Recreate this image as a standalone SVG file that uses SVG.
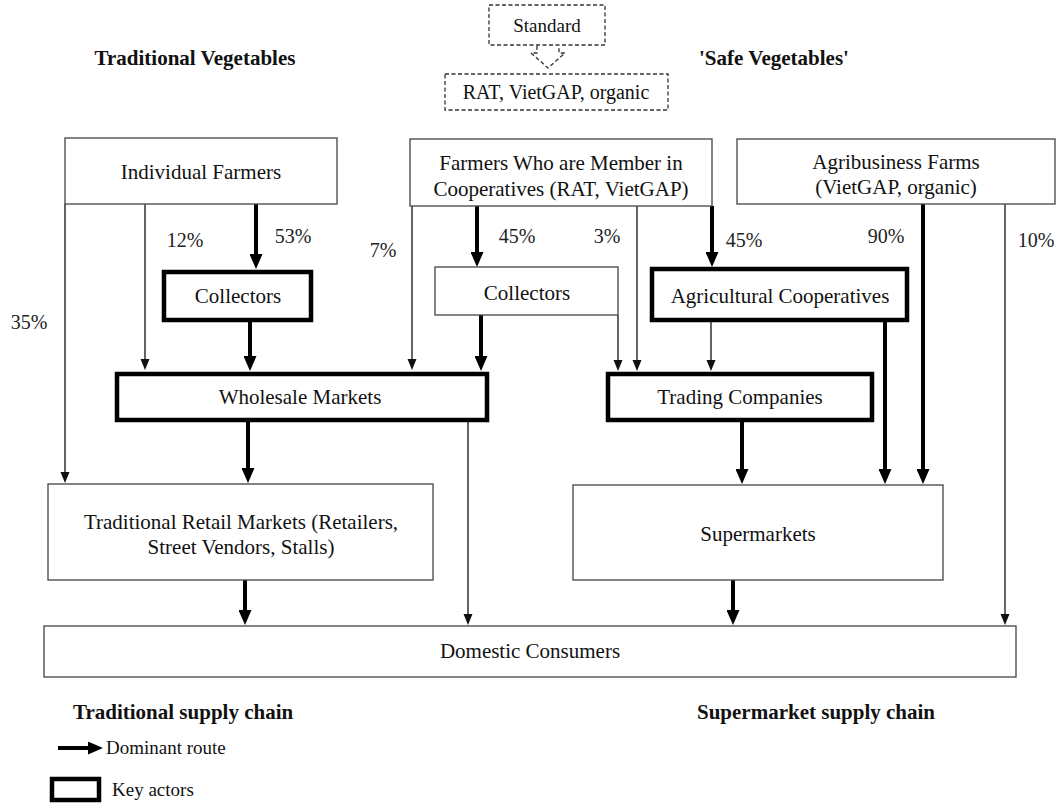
<svg xmlns="http://www.w3.org/2000/svg" width="1063" height="803" viewBox="0 0 1063 803" font-family="'Liberation Serif', 'Times New Roman', serif">
<style>
  text { font-family: "Liberation Serif", "Times New Roman", serif; fill: #111; }
  .lbl { font-size: 21px; text-anchor: middle; }
  .pct { font-size: 20px; text-anchor: middle; fill: #222; }
  .title { font-size: 21px; font-weight: bold; text-anchor: middle; }
  .leg { font-size: 21px; font-weight: bold; }
  .small { font-size: 19px; }
  .box { fill: #fff; stroke: #444; stroke-width: 1.3; }
  .key { fill: #fff; stroke: #000; stroke-width: 4.5; }
  .dash { fill: #fff; stroke: #333; stroke-width: 1.3; stroke-dasharray: 4 2.5; }
  .thin { fill: none; stroke: #111; stroke-width: 1.3; marker-end: url(#ah); }
  .thick { fill: none; stroke: #000; stroke-width: 4; marker-end: url(#ahb); }
</style>
<defs>
  <marker id="ah" markerUnits="userSpaceOnUse" markerWidth="11" markerHeight="10" refX="1" refY="4.5" orient="auto">
    <path d="M0,0 L11,4.5 L0,9 z" fill="#111"/>
  </marker>
  <marker id="ahb" markerUnits="userSpaceOnUse" markerWidth="15" markerHeight="13" refX="1" refY="6.5" orient="auto">
    <path d="M0,0 L15,6.5 L0,13 z" fill="#000"/>
  </marker>
</defs>
<rect width="1063" height="803" fill="#fff"/>

<!-- headers -->
<text class="title" x="195" y="65">Traditional Vegetables</text>
<text class="title" x="774" y="65">'Safe Vegetables'</text>

<g id="standard">
  <rect class="dash" x="489" y="5" width="116" height="40"/>
  <text class="lbl" x="547" y="32" style="font-size:19px">Standard</text>
</g>
<path class="dash" d="M537,46 L537,53 L531,53 L548,68 L565,53 L559,53 L559,46" fill="none"/>
<g id="rat">
  <rect class="dash" x="445" y="74" width="223" height="36"/>
  <text class="lbl" x="556" y="99" style="font-size:20px">RAT, VietGAP, organic</text>
</g>

<!-- connectors -->
<g id="connectors">
  <path class="thin" d="M65,204 V473"/>
  <path class="thin" d="M145,204 V360"/>
  <path class="thin" d="M412,206 V360"/>
  <path class="thin" d="M618,315 V361"/>
  <path class="thin" d="M637,206 V361"/>
  <path class="thin" d="M711,322 V361"/>
  <path class="thin" d="M468,422 V615"/>
  <path class="thin" d="M1005,204 V615"/>

  <path class="thick" d="M256,204 V255"/>
  <path class="thick" d="M250,322 V357"/>
  <path class="thick" d="M477,206 V253"/>
  <path class="thick" d="M481,315 V357"/>
  <path class="thick" d="M712,206 V253"/>
  <path class="thick" d="M885,322 V470"/>
  <path class="thick" d="M923,204 V470"/>
  <path class="thick" d="M742,422 V470"/>
  <path class="thick" d="M248,422 V469"/>
  <path class="thick" d="M245,580 V611"/>
  <path class="thick" d="M733,580 V611"/>
</g>

<!-- percentages -->
<g id="percentages">
  <text class="pct" x="185" y="247">12%</text>
  <text class="pct" x="293" y="243">53%</text>
  <text class="pct" x="383" y="257">7%</text>
  <text class="pct" x="29" y="329">35%</text>
  <text class="pct" x="517" y="243">45%</text>
  <text class="pct" x="607" y="243">3%</text>
  <text class="pct" x="744" y="247">45%</text>
  <text class="pct" x="886" y="243">90%</text>
  <text class="pct" x="1036" y="247">10%</text>
</g>

<!-- nodes -->
<g id="individual-farmers">
  <rect class="box" x="65" y="138" width="272" height="66"/>
  <text class="lbl" x="201" y="179">Individual Farmers</text>
</g>
<g id="coop-farmers">
  <rect class="box" x="410" y="139" width="302" height="67"/>
  <text class="lbl" x="561" y="170">Farmers Who are Member in</text>
  <text class="lbl" x="561" y="196">Cooperatives (RAT, VietGAP)</text>
</g>
<g id="agribusiness">
  <rect class="box" x="737" y="139" width="318" height="65"/>
  <text class="lbl" x="896" y="169">Agribusiness Farms</text>
  <text class="lbl" x="896" y="194">(VietGAP, organic)</text>
</g>
<g id="collectors-1">
  <rect class="key" x="164" y="272" width="147" height="48"/>
  <text class="lbl" x="238" y="303">Collectors</text>
</g>
<g id="collectors-2">
  <rect class="box" x="435" y="267" width="183" height="48"/>
  <text class="lbl" x="527" y="300">Collectors</text>
</g>
<g id="agri-coops">
  <rect class="key" x="652" y="269" width="255" height="51"/>
  <text class="lbl" x="780" y="303">Agricultural Cooperatives</text>
</g>
<g id="wholesale">
  <rect class="key" x="117" y="374" width="370" height="46"/>
  <text class="lbl" x="300" y="404">Wholesale Markets</text>
</g>
<g id="trading">
  <rect class="key" x="608" y="374" width="264" height="46"/>
  <text class="lbl" x="740" y="404">Trading Companies</text>
</g>
<g id="traditional-retail">
  <rect class="box" x="48" y="484" width="385" height="96"/>
  <text class="lbl" x="241" y="529">Traditional Retail Markets (Retailers,</text>
  <text class="lbl" x="241" y="554">Street Vendors, Stalls)</text>
</g>
<g id="supermarkets">
  <rect class="box" x="573" y="485" width="370" height="95"/>
  <text class="lbl" x="758" y="541">Supermarkets</text>
</g>
<g id="domestic">
  <rect class="box" x="44" y="626" width="972" height="51"/>
  <text class="lbl" x="530" y="658">Domestic Consumers</text>
</g>

<!-- legend -->
<g id="legend">
  <text class="leg" x="73" y="719">Traditional supply chain</text>
  <text class="leg" x="697" y="719">Supermarket supply chain</text>
  <path d="M58,748 H89" stroke="#000" stroke-width="4" fill="none" marker-end="url(#ahb)"/>
  <text class="small" x="106" y="754">Dominant route</text>
  <rect class="key" x="52" y="779" width="47" height="21"/>
  <text class="small" x="112" y="796">Key actors</text>
</g>
</svg>
